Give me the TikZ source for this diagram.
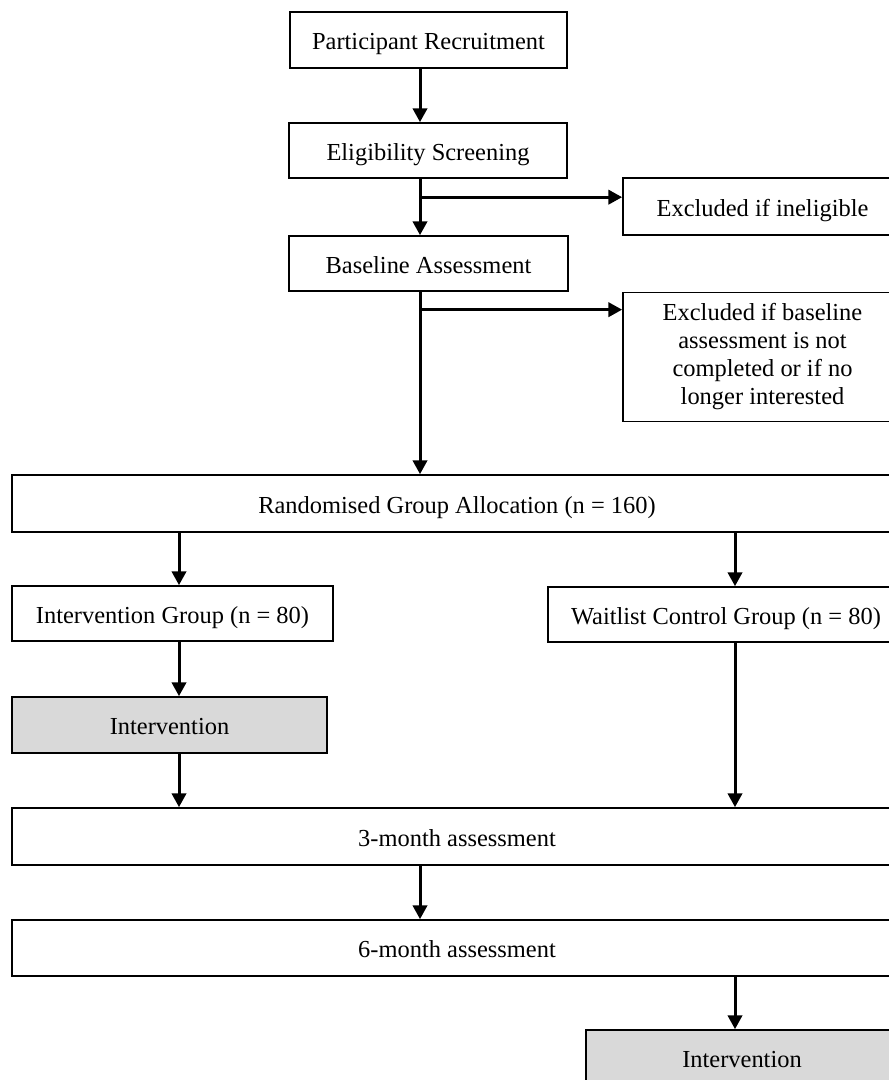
\documentclass[tikz,border=0pt]{standalone}
\usepackage{fontspec}
\setmainfont{Liberation Serif}
\usepackage{xcolor}
\usepackage{tikz}
\usetikzlibrary{arrows.meta,positioning,calc}

\def\pxu{0.45pt}
\tikzset{
  box/.style={draw=black,line width=0.75pt,fill=white,inner sep=0pt,align=center,
    font=\fontsize{11}{12.6}\selectfont},
  line/.style={text height=8.6pt,text depth=0pt},
  graybox/.style={box,fill=black!15},
  flow/.style={line width=1.35pt,-{Triangle[length=6.2pt,width=6.4pt]}}
}

\begin{document}
\begin{tikzpicture}[x=0.45pt,y=-0.45pt]
  \useasboundingbox (0,0) rectangle (889,1080);
  \clip (0,0) rectangle (889,1080);
  \coordinate (spine) at (420,0);
  \coordinate (lcol) at (179,0);
  \coordinate (rcol) at (735,0);
  \node[box,line,minimum width=277*\pxu,minimum height=56*\pxu] (recr) at (428.5,40) {Participant Recruitment};
  \node[box,line,minimum width=278*\pxu,minimum height=55*\pxu] (elig) at (428,150.5) {Eligibility Screening};
  \node[box,line,minimum width=279*\pxu,minimum height=57*\pxu] (excl1) at (762.5,206.5) {Excluded if ineligible};
  \node[box,line,minimum width=279*\pxu,minimum height=55*\pxu] (base) at (428.5,263.5) {Baseline Assessment};
  \node[box,minimum width=279*\pxu,minimum height=129*\pxu] (excl2) at (762.5,357)
  {Excluded if baseline\\assessment is not\\completed or if no\\longer interested};
  \node[box,line,minimum width=890*\pxu,minimum height=57*\pxu] (rand) at (457,503.5) {Randomised Group Allocation (n = 160)};
  \node[box,line,minimum width=321*\pxu,minimum height=55*\pxu] (ig) at (172.5,613.5) {Intervention Group (n = 80)};
  \node[box,line,minimum width=356*\pxu,minimum height=55*\pxu] (wl) at (726,614.5) {Waitlist Control Group (n = 80)};
  \node[graybox,line,minimum width=315*\pxu,minimum height=56*\pxu] (int1) at (169.5,725) {Intervention};
  \node[box,line,minimum width=890*\pxu,minimum height=57*\pxu] (m3) at (457,836.5) {3-month assessment};
  \node[box,line,minimum width=890*\pxu,minimum height=56*\pxu] (m6) at (457,948) {6-month assessment};
  \node[graybox,line,minimum width=312*\pxu,minimum height=56*\pxu] (int2) at (742,1058) {Intervention};
  % 主干
  \draw[flow] (recr.south -| spine) -- (elig.north -| spine);
  \draw[flow] (elig.south -| spine) -- (base.north -| spine);
  \draw[flow] (base.south -| spine) -- (rand.north -| spine);
  % 排除分支
  \draw[flow] ([yshift=-20*\pxu]excl1.north west -| spine) -- ([yshift=-20*\pxu]excl1.north west);
  \draw[flow] ([yshift=-18*\pxu]excl2.north west -| spine) -- ([yshift=-18*\pxu]excl2.north west);
  % 两组
  \draw[flow] (rand.south -| lcol) -- (ig.north -| lcol);
  \draw[flow] (rand.south -| rcol) -- (wl.north -| rcol);
  \draw[flow] (ig.south -| lcol) -- (int1.north -| lcol);
  \draw[flow] (int1.south -| lcol) -- (m3.north -| lcol);
  \draw[flow] (wl.south -| rcol) -- (m3.north -| rcol);
  \draw[flow] (m3.south -| spine) -- (m6.north -| spine);
  \draw[flow] (m6.south -| rcol) -- (int2.north -| rcol);
\end{tikzpicture}
\end{document}
